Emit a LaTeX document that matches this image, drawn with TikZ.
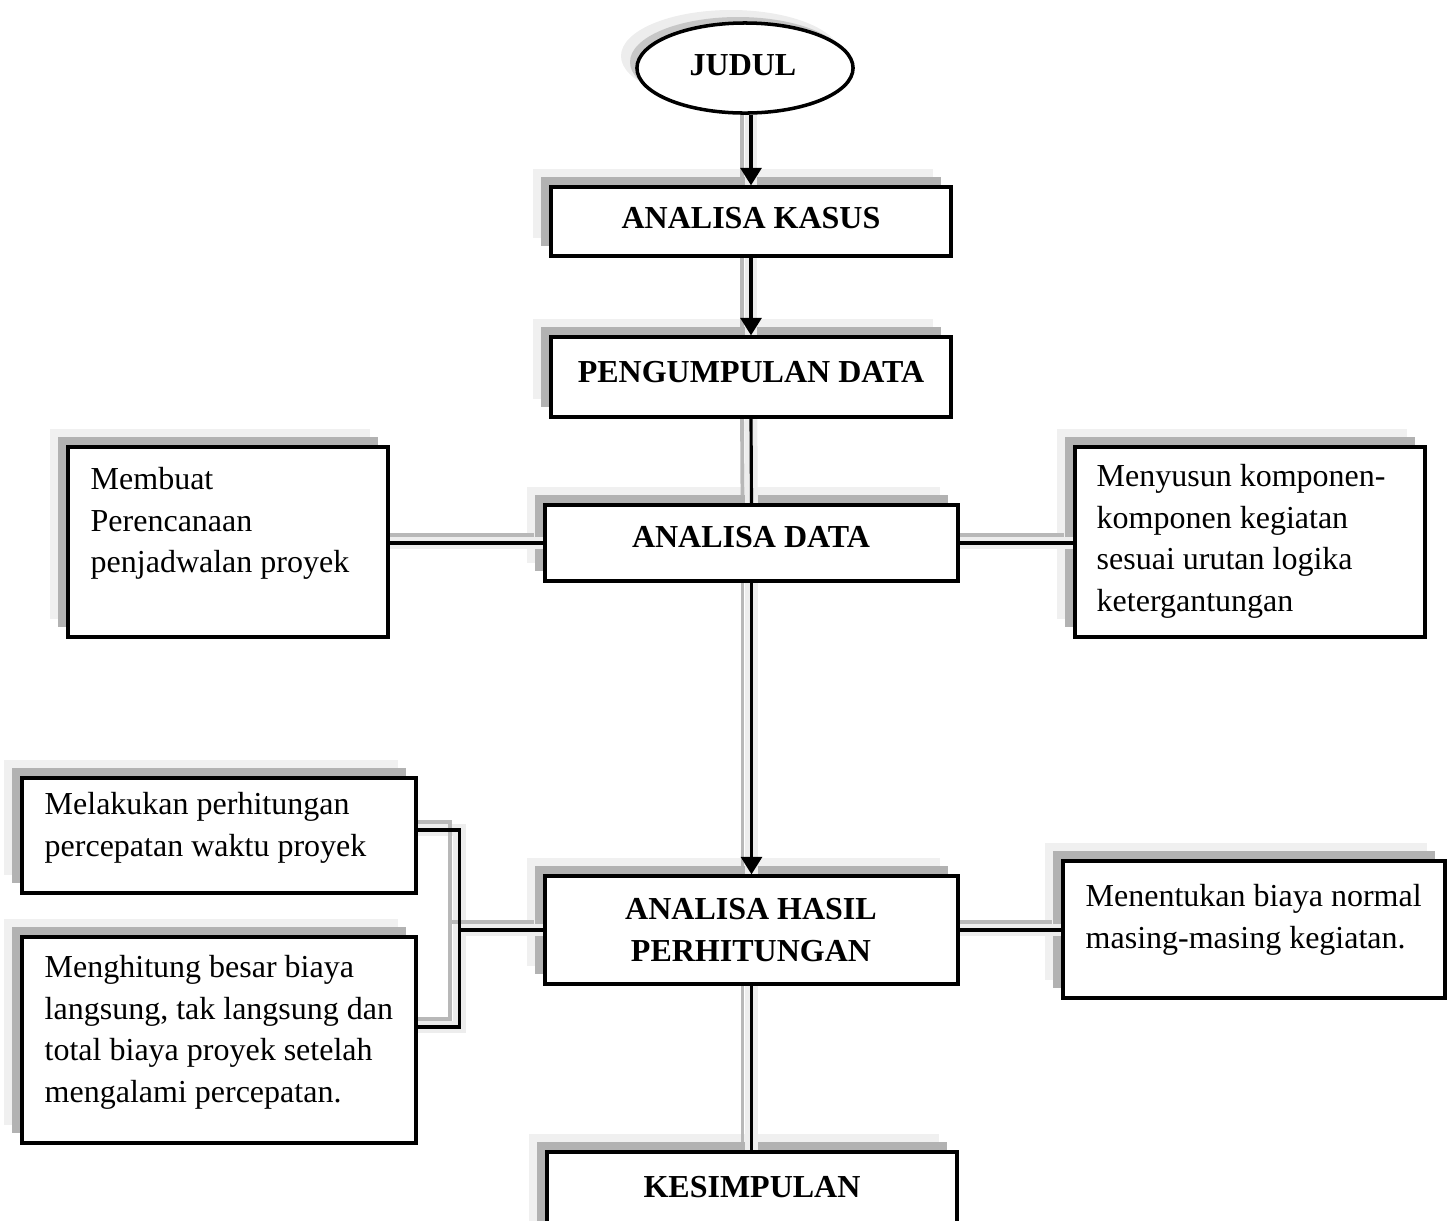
\documentclass[tikz,border=0pt]{standalone}
\usepackage{fontspec}
\setmainfont{Liberation Serif}
\usetikzlibrary{fit,arrows.meta,shapes.geometric}
\pgfdeclarelayer{bg}
\pgfsetlayers{bg,main}
\tikzset{
  panel/.style={draw=black, line width=0.95pt, fill=white, inner sep=0pt, rectangle},
  shdark/.style={fill=black!30},
  shlight/.style={fill=black!6},
  conn/.style={draw=black, line width=0.9pt},
  arr/.style={conn, -{Triangle[length=5pt,width=6pt]}},
  shconn/.style={draw=black!28, line width=1.1pt, preaction={draw=black!7, line width=3.6pt}, transform canvas={shift={(-0.09cm,0.08cm)}}},
  body/.style={font=\fontsize{9.1}{11.8}\selectfont, inner sep=0pt, align=left, anchor=north west},
  ttl/.style={font=\fontsize{9.1}{11.8}\selectfont\bfseries, inner sep=0pt, anchor=base},
}
\newcommand{\drawpanel}[5]{%
  \begin{pgfonlayer}{bg}
    \fill[shlight] (#2-18,#3-18) rectangle (#4-18,#5-18);
    \fill[shdark] (#2-10,#3-10) rectangle (#4-10,#5-10);
  \end{pgfonlayer}
  \node[panel, fit={(#2,#3) (#4,#5)}] (#1) {};
}
\begin{document}
\begin{tikzpicture}[x=0.01cm,y=-0.01cm]
\useasboundingbox (0,0) rectangle (1448,1220);
\clip (0,0) rectangle (1448,1220);
% title ellipse
\begin{pgfonlayer}{bg}
  \fill[black!7] (731,56) ellipse [x radius=110, y radius=46];
  \fill[black!22] (738,62) ellipse [x radius=108, y radius=45];
\end{pgfonlayer}
\node[draw, line width=1pt, fill=white, ellipse, minimum width=2.16cm, minimum height=0.9cm, inner sep=0pt] (judul) at (745,68) {};
\node[ttl] (tjudul) at (743,75) {JUDUL};
% main column
\drawpanel{kasus}{551}{187}{951}{256}
\node[ttl] (tkasus) at (751,228) {ANALISA KASUS};
\drawpanel{kumpul}{551}{337}{951}{417}
\node[ttl] (tkumpul) at (751,382) {PENGUMPULAN DATA};
\drawpanel{data}{545}{505}{958}{581}
\node[ttl] (tdata) at (751,547) {ANALISA DATA};
\drawpanel{hasil}{545}{876}{958}{984}
\node[ttl, align=center, anchor=north] (thasil) at (751,890) {\strut ANALISA HASIL\\PERHITUNGAN};
\drawpanel{kes}{547}{1152}{957}{1262}
\node[ttl] (tkes) at (752,1197) {KESIMPULAN};
% side boxes
\drawpanel{mbt}{68}{447}{388}{637}
\node[body] (tmbt) at (90,460) {\strut Membuat\\Perencanaan\\penjadwalan proyek};
\drawpanel{msn}{1075}{447}{1425}{637}
\node[body] (tmsn) at (1096,457) {\strut Menyusun komponen-\\komponen kegiatan\\sesuai urutan logika\\ketergantungan};
\drawpanel{mel}{22}{778}{416}{893}
\node[body] (tmel) at (44,785) {\strut Melakukan perhitungan\\percepatan waktu proyek};
\drawpanel{mgh}{22}{937}{416}{1143}
\node[body] (tmgh) at (44,948) {\strut Menghitung besar biaya\\langsung, tak langsung dan\\total biaya proyek setelah\\mengalami percepatan.};
\drawpanel{mnt}{1063}{861}{1445}{998}
\node[body] (tmnt) at (1085,877) {\strut Menentukan biaya normal\\masing-masing kegiatan.};
\coordinate (brk) at ([xshift=-0.84cm]hasil.west);
\coordinate (meltop) at ([yshift=0.055cm]mel.east);
\coordinate (mghbot) at ([yshift=0.13cm]mgh.east);
% connector shadows
\begin{pgfonlayer}{bg}
  \draw[shconn] (judul.south -| kasus.north) -- (kasus.north);
  \draw[shconn] (kasus.south) -- (kumpul.north);
  \draw[shconn] (kumpul.south) -- (data.north);
  \draw[shconn] (data.south) -- (hasil.north);
  \draw[shconn] (hasil.south) -- (hasil.south |- kes.north);
  \draw[shconn] (data.west) -- (data.west -| mbt.east);
  \draw[shconn] (data.east) -- (data.east -| msn.west);
  \draw[shconn] (hasil.east) -- (hasil.east -| mnt.west);
  \draw[shconn] (meltop) -| (brk) |- (mghbot);
  \draw[shconn] (brk) -- (hasil.west);
\end{pgfonlayer}
% connectors
\draw[arr] (judul.south -| kasus.north) -- (kasus.north);
\draw[arr] (kasus.south) -- (kumpul.north);
\draw[conn] (kumpul.south) -- (data.north);
\draw[arr] (data.south) -- (hasil.north);
\draw[conn] (hasil.south) -- (hasil.south |- kes.north);
\draw[conn] (data.west) -- (data.west -| mbt.east);
\draw[conn] (data.east) -- (data.east -| msn.west);
\draw[conn] (hasil.east) -- (hasil.east -| mnt.west);
\draw[conn] (meltop) -| (brk) |- (mghbot);
\draw[conn] (brk) -- (hasil.west);
\end{tikzpicture}
\end{document}
